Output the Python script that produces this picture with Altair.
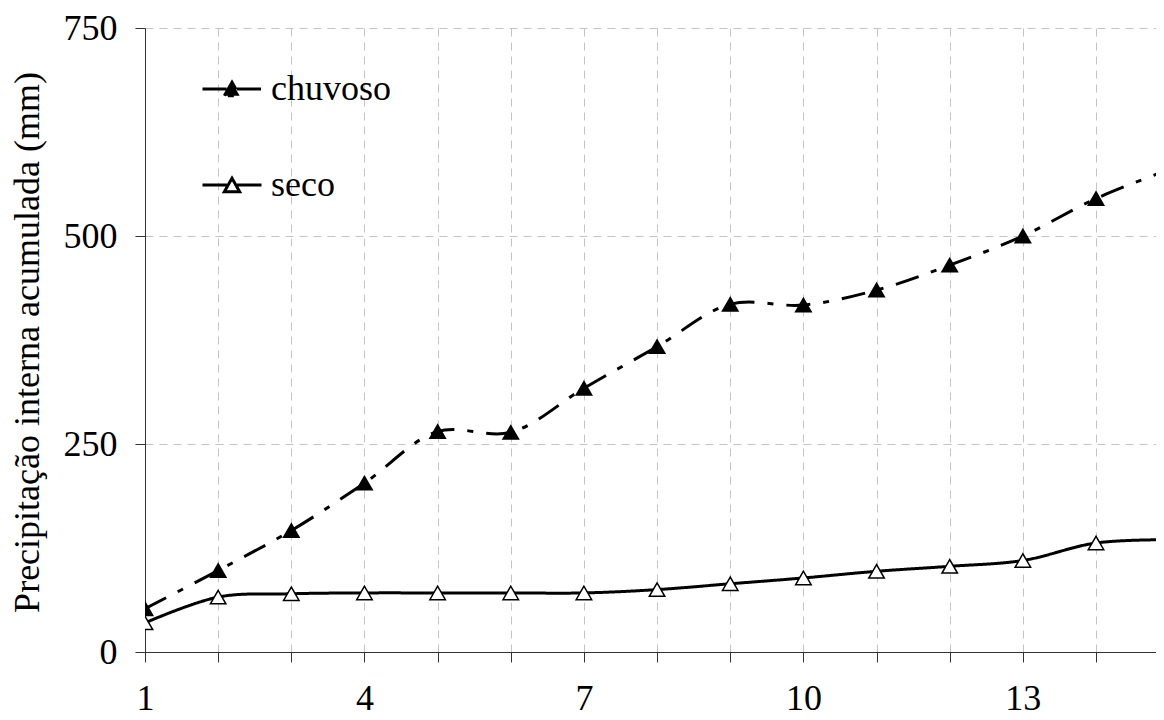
import altair as alt
import pandas as pd

# ---- data ----
dias = list(range(1, 16))
chuvoso = [52, 98, 146, 203, 265, 264, 317, 367, 418, 417, 435, 465, 500, 545, 580]
seco = [35, 66, 70, 71, 71, 71, 71, 75, 82, 89, 97, 103, 110, 131, 135]
series = ["chuvoso", "seco"]
y_ticks = [0, 250, 500, 750]
x_ticks = list(range(1, 15))
x_labels = [1, 4, 7, 10, 13]

rows = []
for d, c, s in zip(dias, chuvoso, seco):
    rows.append({"dia": d, "valor": c, "serie": "chuvoso"})
    rows.append({"dia": d, "valor": s, "serie": "seco"})
df = pd.DataFrame(rows)

FONT = "Liberation Serif"
AXIS_COLOR = "#333333"
GRID_COLOR = "#c4c4c4"

legend_symbol = "M-1,0H-0.17M0.17,0H1M-0.26,0.23L0,-0.23L0.26,0.23Z"

legend_kw = dict(
    title=None,
    orient="none",
    legendX=56,
    legendY=30,
    direction="vertical",
    symbolType=legend_symbol,
    symbolSize=3481,
    symbolStrokeColor="black",
    symbolStrokeWidth=3,
    labelFont=FONT,
    labelFontSize=36,
    labelColor="black",
    labelOffset=8,
    rowPadding=47,
)

x_enc = alt.X(
    "dia:Q",
    scale=alt.Scale(domain=[1, 14.82], nice=False, zero=False),
    axis=alt.Axis(
        values=x_ticks,
        labelExpr=f"indexof({x_labels}, datum.value) >= 0 ? datum.label : ''",
        title=None,
        grid=True,
        gridDash=[8, 6],
        gridColor=GRID_COLOR,
        gridWidth=1,
        tickSize=10,
        tickColor=AXIS_COLOR,
        domainColor=AXIS_COLOR,
        labelPadding=47,
        labelBaseline="alphabetic",
        labelFont=FONT,
        labelFontSize=36,
        labelColor="black",
        labelFlush=False,
        labelOverlap=False,
    ),
)

y_enc = alt.Y(
    "valor:Q",
    scale=alt.Scale(domain=[0, 750], nice=False),
    axis=alt.Axis(
        values=y_ticks,
        title="Precipitação interna acumulada (mm)",
        titleFont=FONT,
        titleFontSize=36,
        titleFontWeight="normal",
        titleColor="black",
        titleAngle=270,
        titleX=-107,
        titleY=314,
        titleAlign="center",
        titleBaseline="alphabetic",
        grid=True,
        gridDash=[8, 6],
        gridColor=GRID_COLOR,
        gridWidth=1,
        tickSize=10,
        tickColor=AXIS_COLOR,
        domainColor=AXIS_COLOR,
        labelPadding=18,
        labelFont=FONT,
        labelFontSize=36,
        labelColor="black",
        labelFlush=False,
        labelOverlap=False,
    ),
)

lines = alt.Chart(df).mark_line(
    strokeWidth=3, color="black", interpolate="catmull-rom", clip=True
).encode(
    x=x_enc,
    y=y_enc,
    strokeDash=alt.StrokeDash(
        "serie:N",
        scale=alt.Scale(domain=series, range=[[24, 13, 6, 13], [1, 0]]),
        legend=alt.Legend(**legend_kw),
    ),
)

points = alt.Chart(df).mark_point(
    shape="triangle-up", size=240, filled=True, stroke="black",
    strokeWidth=1.5, opacity=1, clip=True
).encode(
    x=x_enc,
    y=y_enc,
    fill=alt.Fill(
        "serie:N",
        scale=alt.Scale(domain=series, range=["black", "white"]),
        legend=alt.Legend(**legend_kw),
    ),
)

chart = alt.layer(lines, points).properties(
    width=1011,
    height=624,
    autosize=alt.AutoSizeParams(type="none"),
    padding={"left": 137, "top": 20, "right": 0, "bottom": 68},
    background="white",
).configure(
    font=FONT
).configure_axis(
    labelFont=FONT, titleFont=FONT
).configure_legend(
    labelFont=FONT
).configure_text(
    font=FONT
).configure_view(stroke=None)

chart.save("out.html", embed_options={"renderer": "svg", "actions": False})
